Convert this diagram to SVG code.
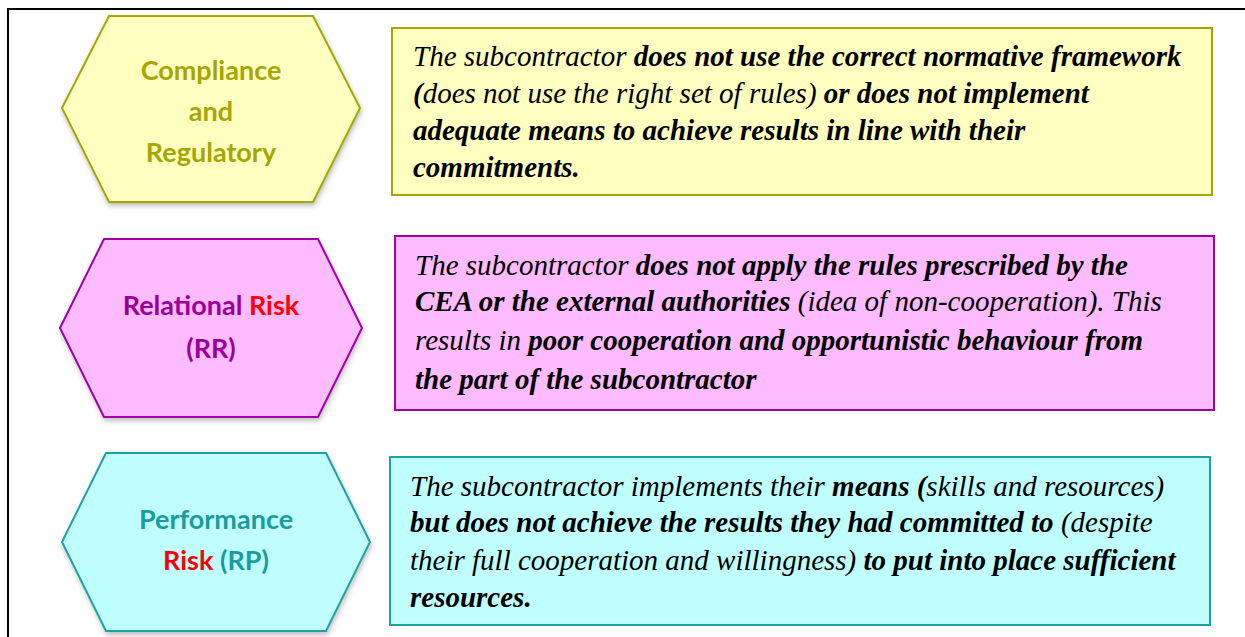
<svg xmlns="http://www.w3.org/2000/svg" width="1245" height="637" viewBox="0 0 1245 637">
<style>
.hex{stroke-width:2}
.ht{font-family:Lato,"Open Sans",sans-serif;font-weight:bold;font-size:27px;text-anchor:middle}
.bt{font-style:italic;font-size:29px;fill:#000}
.b{font-weight:bold}
.y{fill:#FFFFC0;stroke:#A6A600}
.p{fill:#FFBBFF;stroke:#A000A8}
.c{fill:#C0FFFF;stroke:#20A0A0}
</style>
<defs>
<filter id="sh" x="-10%" y="-10%" width="120%" height="125%">
<feDropShadow dx="1" dy="3" stdDeviation="2.5" flood-color="#000" flood-opacity="0.25"/>
</filter>
</defs>
<rect width="1245" height="637" fill="#fff"/>
<path d="M8,640 V9 H1250" fill="none" stroke="#000" stroke-width="2"/>
<g id="connectors"></g>
<g id="hex1">
<polygon class="hex y" filter="url(#sh)" points="62,108 109,16 313,16 360,108 313,202 109,202"/>
<text class="ht" x="211" y="80" fill="#A6A600">Compliance</text>
<text class="ht" x="211" y="121" fill="#A6A600">and</text>
<text class="ht" x="211" y="162" fill="#A6A600">Regulatory</text>
</g>
<g id="box1" font-family="'Liberation Serif','Times New Roman',serif">
<rect class="y" x="392" y="28" width="820" height="167" stroke-width="2"/>
<text class="bt" font-family="Liberation Serif, serif" x="413" y="66">The subcontractor <tspan class="b">does not use the correct normative framework</tspan></text>
<text class="bt" font-family="Liberation Serif, serif" x="413" y="103"><tspan class="b">(</tspan>does not use the right set of rules)<tspan class="b"> or does not implement</tspan></text>
<text class="bt b" font-family="Liberation Serif, serif" x="413" y="140">adequate means to achieve results in line with their</text>
<text class="bt b" font-family="Liberation Serif, serif" x="413" y="177">commitments.</text>
</g>
<g id="hex2">
<polygon class="hex p" filter="url(#sh)" points="60,328 104,239 318,239 362,328 318,417 104,417"/>
<text class="ht" x="211" y="315" fill="#990099">Relational <tspan fill="#FF0000">Risk</tspan></text>
<text class="ht" x="211" y="358" fill="#990099">(RR)</text>
</g>
<g id="box2" font-family="'Liberation Serif','Times New Roman',serif">
<rect class="p" x="395" y="236" width="819" height="174" stroke-width="2"/>
<text class="bt" font-family="Liberation Serif, serif" x="415" y="275">The subcontractor <tspan class="b">does not apply the rules prescribed by the</tspan></text>
<text class="bt" font-family="Liberation Serif, serif" x="415" y="311"><tspan class="b">CEA or the external authorities</tspan> (idea of non-cooperation). This</text>
<text class="bt" font-family="Liberation Serif, serif" x="415" y="350">results in <tspan class="b">poor cooperation and opportunistic behaviour from</tspan></text>
<text class="bt b" font-family="Liberation Serif, serif" x="415" y="389">the part of the subcontractor</text>
</g>
<g id="hex3">
<polygon class="hex c" filter="url(#sh)" points="62,542 106,453 326,453 370,542 326,631 106,631"/>
<text class="ht" x="216" y="529" fill="#1A9C9C">Performance</text>
<text class="ht" x="216" y="570" fill="#1A9C9C"><tspan fill="#FF0000">Risk</tspan> (RP)</text>
</g>
<g id="box3" font-family="'Liberation Serif','Times New Roman',serif">
<rect class="c" x="390" y="457" width="820" height="168" stroke-width="2"/>
<text class="bt" font-family="Liberation Serif, serif" x="410" y="496">The subcontractor implements their <tspan class="b">means</tspan><tspan class="b"> (</tspan>skills and resources)</text>
<text class="bt" font-family="Liberation Serif, serif" x="410" y="532"><tspan class="b">but does not achieve the results they had committed to</tspan> (despite</text>
<text class="bt" font-family="Liberation Serif, serif" x="410" y="570">their full cooperation and willingness)<tspan class="b"> to put into place sufficient</tspan></text>
<text class="bt b" font-family="Liberation Serif, serif" x="410" y="607">resources.</text>
</g>
</svg>
